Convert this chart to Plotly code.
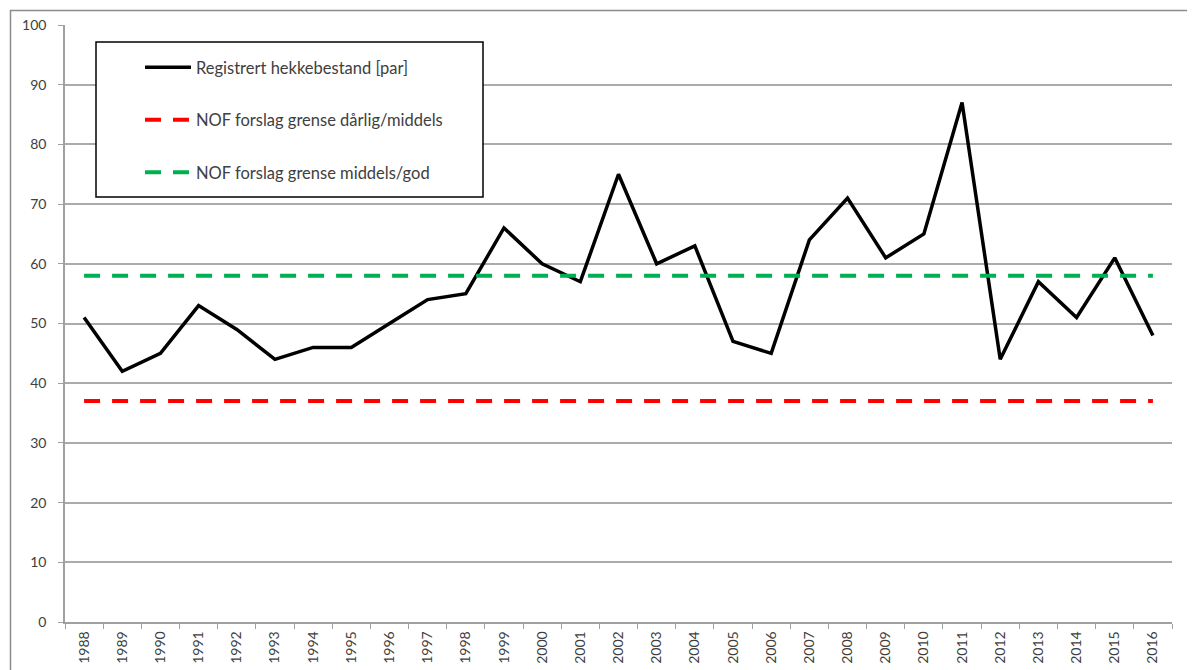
import plotly.graph_objects as go

years = [str(y) for y in range(1988, 2017)]
pairs = [51, 42, 45, 53, 49, 44, 46, 46, 50, 54, 55, 66, 60, 57, 75, 60, 63,
         47, 45, 64, 71, 61, 65, 87, 44, 57, 51, 61, 48]
limit_poor = 37
limit_good = 58
names = ["Registrert hekkebestand [par]",
         "NOF forslag grense dårlig/middels",
         "NOF forslag grense middels/god"]

# page is rendered with an 8px body margin
OFF = 8
W, H = 1195 - OFF, 670 - OFF
L, R, T, B = 65, 1172, 25, 622          # plot area in page pixels
pw, ph = R - L, B - T
def px(x): return (x - L) / pw
def py(y): return (B - y) / ph

font = "Lato, 'Open Sans', sans-serif"

fig = go.Figure()
fig.add_trace(go.Scatter(x=years, y=pairs, mode="lines", name=names[0],
                         line=dict(color="black", width=3.5), legendgroup="a"))
fig.add_trace(go.Scatter(x=years, y=[limit_poor] * len(years), mode="lines", name=names[1],
                         line=dict(color="#ff0000", width=4, dash="16px,12px"), legendgroup="b"))
fig.add_trace(go.Scatter(x=years, y=[limit_good] * len(years), mode="lines", name=names[2],
                         line=dict(color="#00b050", width=4, dash="16px,12px"), legendgroup="c"))

fig.update_layout(
    width=W, height=H,
    margin=dict(l=L - OFF, r=W - (R - OFF), t=T - OFF, b=H - (B - OFF), pad=0,
                autoexpand=False),
    paper_bgcolor="white", plot_bgcolor="white",
    font=dict(family=font, size=14, color="#404040"),
    showlegend=True,
    legend=dict(x=px(140), y=py(50), xanchor="left", yanchor="top",
                bgcolor="rgba(0,0,0,0)", borderwidth=0,
                traceorder="grouped", tracegroupgap=28, itemwidth=46,
                font=dict(size=16.5, color="#404040")),
    xaxis=dict(type="category", tickson="boundaries", ticks="outside", ticklen=5,
               tickcolor="#a0a0a0", showline=True, linecolor="#a0a0a0", linewidth=1.5,
               showgrid=False, tickangle=-90, tickfont=dict(size=14, color="#404040"),
               ticklabelstandoff=2,
               range=[-0.5, len(years) - 0.5], automargin=False),
    yaxis=dict(range=[0, 100], dtick=10, ticks="outside", ticklen=5, tickcolor="#a0a0a0",
               showline=True, linecolor="#a0a0a0", linewidth=1.5,
               showgrid=True, gridcolor="#ababab", gridwidth=1.5, zeroline=False,
               ticklabelstandoff=9,
               tickfont=dict(size=14, color="#404040"), automargin=False),
    shapes=[
        dict(type="rect", xref="paper", yref="paper", x0=px(96), x1=px(483),
             y0=py(197), y1=py(42), fillcolor="white",
             line=dict(color="black", width=1.5), layer="above"),
        dict(type="line", xref="paper", yref="paper", x0=px(10), x1=px(1200),
             y0=py(10.5), y1=py(10.5), line=dict(color="#8c8c8c", width=1.5)),
        dict(type="line", xref="paper", yref="paper", x0=px(10.5), x1=px(10.5),
             y0=py(10), y1=py(680), line=dict(color="#8c8c8c", width=1.5)),
    ],
)

fig.write_html("out.html")
